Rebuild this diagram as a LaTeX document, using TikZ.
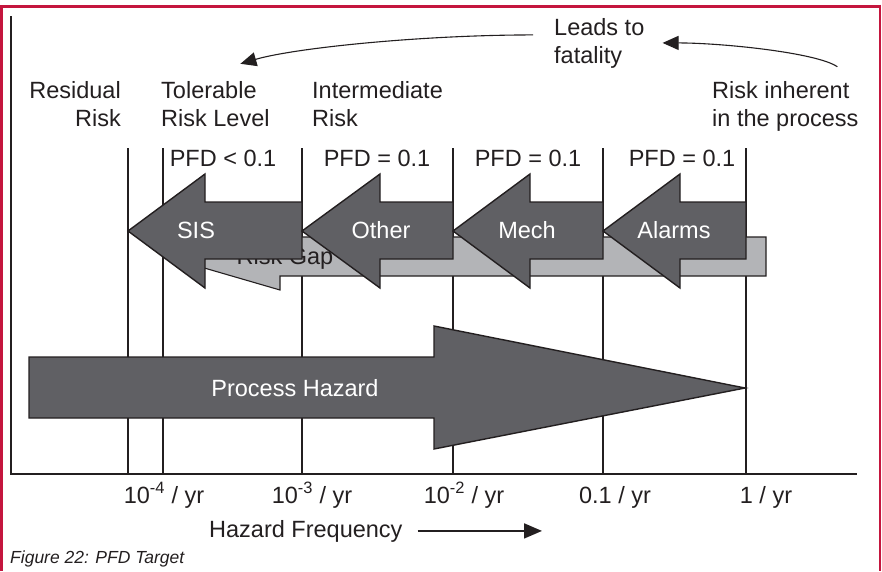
\documentclass[tikz,border=0pt]{standalone}
\usepackage{fontspec}
\setmainfont{Liberation Sans}
\usetikzlibrary{calc,positioning,arrows.meta}
\definecolor{framered}{RGB}{196,22,62}
\definecolor{darkfill}{RGB}{96,96,100}
\definecolor{lightfill}{RGB}{179,180,183}
\definecolor{ink}{RGB}{35,31,32}

\begin{document}
\begin{tikzpicture}[x=1pt, y=-1pt,
  lbl/.style={inner sep=0pt, text=ink, font=\fontsize{23.5}{28}\selectfont},
  tick/.style={lbl, anchor=base},
  barrier/.style={draw=ink, line width=1.4pt, fill=darkfill, line join=miter},
  gap/.style={draw=ink, line width=1.1pt, fill=lightfill},
  grid/.style={draw=ink, line width=1.3pt},
  axis/.style={draw=ink, line width=2pt},
  fatal/.style={draw=ink, line width=1.1pt, -{Triangle[length=16pt,width=14pt]}},
  flow/.style={draw=ink, line width=1.8pt, -{Triangle[length=18pt,width=15pt]}}]
\useasboundingbox (0,0) rectangle (882,571);
% frame
\draw[framered, line width=3pt] (1.5,571) |- (880,6);
\draw[framered, line width=2pt] (880,4.5) -- (880,571);
% frequency grid and axes
\foreach \x in {128,163,302,453,603,746}{\draw[grid] (\x,148) -- (\x,474);}
\draw[axis] (11,16) |- (857,474);
% risk gap
\draw[gap] (163,256) -- (280,222) -- (280,237) -- (766,237) -- (766,276) -- (280,276) -- (280,290) -- cycle;
\node[lbl, anchor=base] (riskgap) at (285,264) {Risk Gap};
% protection layers
\foreach \tip/\base/\tail/\mid/\word in {128/205/302/196/SIS, 302/380/453/381/Other, 453/530/603/527/Mech, 603/680/746/674/Alarms}{
\draw[barrier] (\tip,231) -- (\base,174) -- (\base,202) -- (\tail,202) -- (\tail,259) -- (\base,259) -- (\base,288) -- cycle;
\node[lbl, text=white, anchor=base] (\word) at (\mid,238) {\word};}
\foreach \x/\txt [count=\i] in {223/{PFD < 0.1}, 377/{PFD = 0.1}, 528/{PFD = 0.1}, 682/{PFD = 0.1}}{\node[tick] (pfd\i) at (\x,166) {\txt};}
% process hazard
\draw[barrier] (29,357) -- (434,357) -- (434,326) -- (745,388) -- (434,449) -- (434,418) -- (29,418) -- cycle;
\node[lbl, text=white, anchor=base] (hazard) at (295,396) {Process Hazard};
% risk levels (base = last line)
\node[lbl, align=right, anchor=base east] (residual) at (121,126) {Residual\\Risk};
\node[lbl, align=left, anchor=base west] (tolerable) at (161,126) {Tolerable\\Risk Level};
\node[lbl, align=left, anchor=base west] (intermediate) at (312,126) {Intermediate\\Risk};
\node[lbl, align=left, anchor=base west] (inherent) at (712,126) {Risk inherent\\in the process};
\node[lbl, align=left, anchor=base west] (leads) at (554,63) {Leads to\\fatality};
\draw[fatal] ([xshift=52pt,yshift=14pt]inherent.north) .. controls +(-20,-14) and +(60,0) .. ([xshift=18pt]leads.east);
\draw[fatal] ([xshift=-21pt,yshift=8pt]leads.west) .. controls +(-110,0) and +(55,-16) .. ([xshift=25pt,yshift=17pt]tolerable.north);
% frequency scale
\foreach \x/\txt [count=\i] in {164/{10\textsuperscript{-4} / yr}, 312/{10\textsuperscript{-3} / yr}, 464/{10\textsuperscript{-2} / yr}, 615/{0.1 / yr}, 766/{1 / yr}}{\node[tick] (freq\i) at (\x,503) {\txt};}
\node[lbl, anchor=base west] (freq) at (209,537) {Hazard Frequency};
\coordinate (freqend) at (542,532);
\draw[flow] ([xshift=15pt]freq.east) -- (freq.east -| freqend);
\node[inner sep=0pt, text=ink, font=\fontsize{17.5}{21}\selectfont\itshape, anchor=base west] (caption) at (10,563) {Figure 22: PFD Target};
\end{tikzpicture}
\end{document}
